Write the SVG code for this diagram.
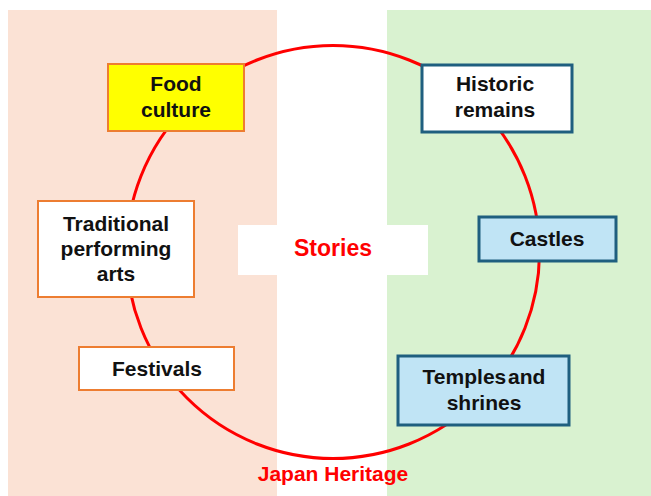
<svg xmlns="http://www.w3.org/2000/svg" width="651" height="496" viewBox="0 0 651 496">
<style>
text{font-family:"Liberation Sans",Arial,sans-serif;font-weight:bold;font-size:21px;text-anchor:middle;fill:#111}
.red{fill:#FF0000}
.orange{stroke:#ED7D31;stroke-width:2}
.teal{stroke:#1F5F7F;stroke-width:3}
</style>
<rect width="651" height="496" fill="#fff"/>
<g id="panels">
<rect x="8" y="10" width="269" height="486" fill="#FBE2D5"/>
<rect x="387" y="10" width="264" height="486" fill="#D9F2D0"/>
</g>
<g id="connectors">
<circle cx="333" cy="252" r="206.5" fill="none" stroke="#FF0000" stroke-width="3"/>
</g>
<g id="stories">
<rect x="238" y="225" width="190" height="50" fill="#fff"/>
<text class="red" x="333" y="256" style="font-size:23px">Stories</text>
</g>
<g id="food-culture">
<rect class="orange" x="108" y="64" width="136" height="67" fill="#FFFF00"/>
<text x="176" y="91">Food</text>
<text x="176" y="117">culture</text>
</g>
<g id="historic-remains">
<rect class="teal" x="422" y="65" width="150" height="67" fill="#fff"/>
<text x="495" y="91">Historic</text>
<text x="495" y="117">remains</text>
</g>
<g id="traditional-performing-arts">
<rect class="orange" x="38" y="201" width="156" height="96" fill="#fff"/>
<text x="116" y="231">Traditional</text>
<text x="116" y="256">performing</text>
<text x="116" y="281">arts</text>
</g>
<g id="festivals">
<rect class="orange" x="79" y="347" width="155" height="43" fill="#fff"/>
<text x="157" y="376">Festivals</text>
</g>
<g id="castles">
<rect class="teal" x="479" y="217" width="137" height="44" fill="#C0E4F5"/>
<text x="547" y="246">Castles</text>
</g>
<g id="temples-and-shrines">
<rect class="teal" x="398" y="356" width="171" height="69" fill="#C0E4F5"/>
<text x="484" y="384" style="word-spacing:-4px">Temples and</text>
<text x="484" y="410">shrines</text>
</g>
<g id="japan-heritage">
<text class="red" x="333" y="481">Japan Heritage</text>
</g>
</svg>
